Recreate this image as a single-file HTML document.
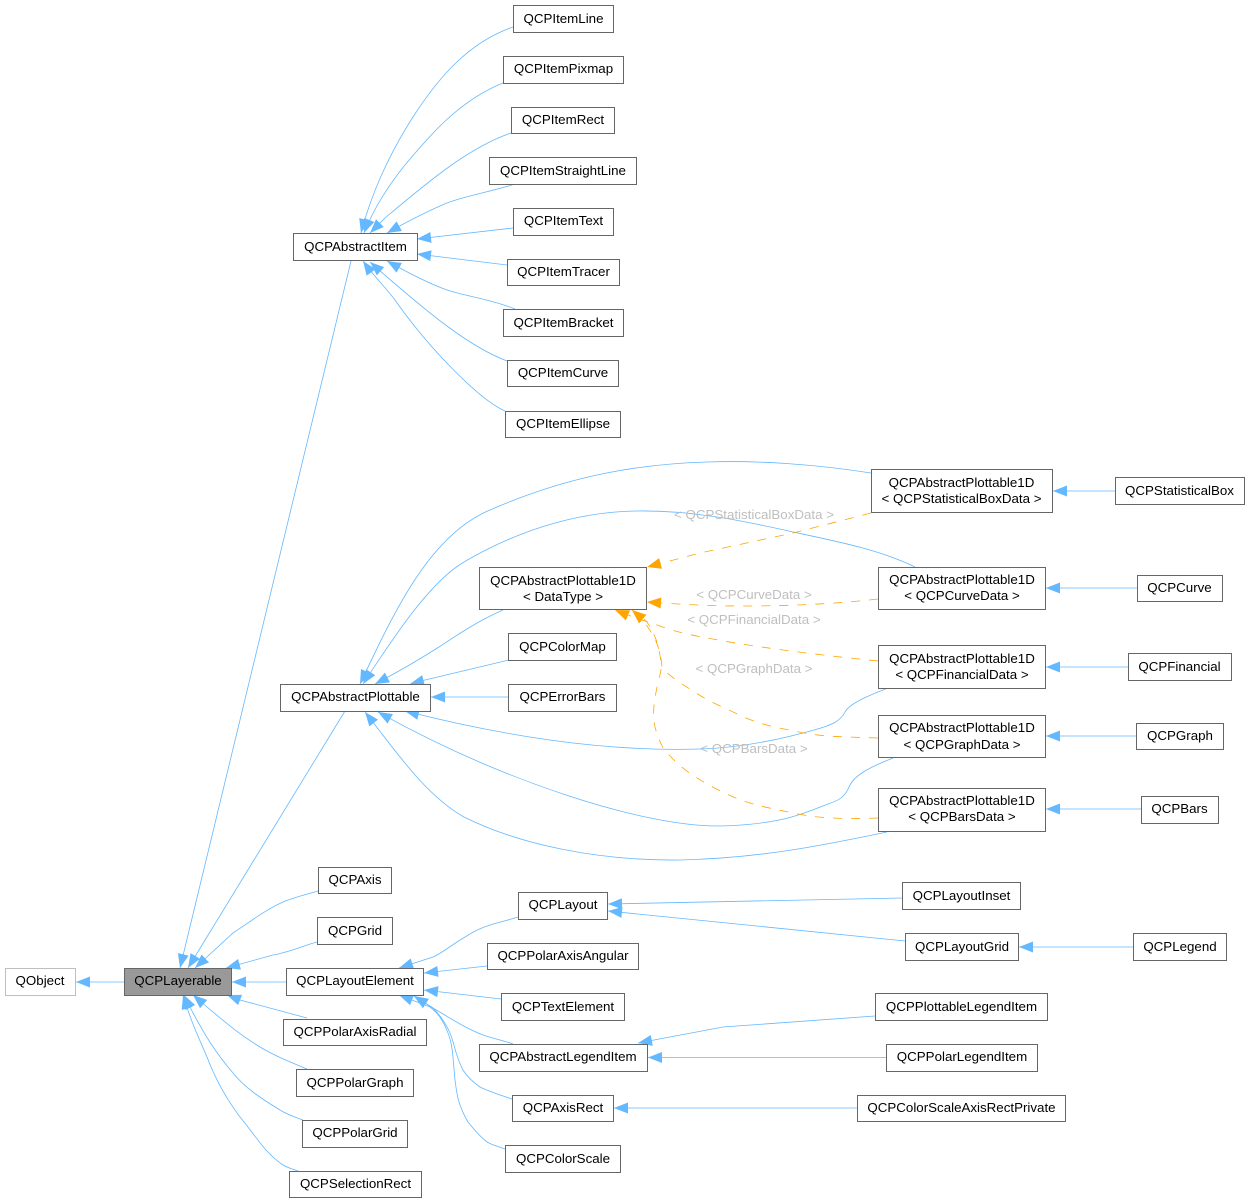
<!DOCTYPE html>
<html><head><meta charset="utf-8"><style>
html,body{margin:0;padding:0;background:#fff}
svg{display:block}
text{font-family:"Liberation Sans",sans-serif;font-size:13.33px;fill:#000;text-anchor:middle}
.b{fill:#fff;stroke:#666;stroke-width:1}
.e{fill:none;stroke:#63b8ff;stroke-width:.8;marker-end:url(#a)}
.o{fill:none;stroke:#ffa500;stroke-width:.8;stroke-dasharray:9,9;marker-end:url(#o)}
.l{fill:#bfbfbf}
</style></head><body>
<svg width="1249" height="1203" viewBox="0 0 1249 1203" xmlns="http://www.w3.org/2000/svg">
<defs>
<marker id="a" markerUnits="userSpaceOnUse" markerWidth="16" markerHeight="13" refX="14" refY="5.5" orient="auto" overflow="visible"><polygon points="0,0 14,5.5 0,11" fill="#63b8ff"/></marker>
<marker id="o" markerUnits="userSpaceOnUse" markerWidth="16" markerHeight="13" refX="14" refY="5.5" orient="auto" overflow="visible"><polygon points="0,0 14,5.5 0,11" fill="#ffa500"/></marker>
</defs>

<!-- item edges -->
<path class="e" d="M513,27C470,42 440,75 413,117C388,156 371,195 361,233"/>
<path class="e" d="M503,83C460,100 430,135 405,165C388,186 374,208 364,233"/>
<path class="e" d="M511,133C470,147 430,180 385,218L370,233"/>
<path class="e" d="M515,184C490,192 465,196 447,203C430,210 412,219 387,233"/>
<path class="e" d="M513,228L417,239"/>
<path class="e" d="M507,265L417,254"/>
<path class="e" d="M515,309C490,299 465,296 447,290C430,284 412,275 387,261"/>
<path class="e" d="M507,361C470,347 430,315 370,262"/>
<path class="e" d="M505,411C480,400 430,350 395,300C385,287 373,275 363,261"/>
<path class="e" d="M351,261L180,968"/>
<path class="e" d="M345,711L188,968"/>
<path class="e" d="M318,891C305,895 295,897 283,902C265,910 250,922 233,933L195,968"/>
<path class="e" d="M317,942C305,945 290,952 273,955L226,968"/>
<path class="e" d="M286,982L232,982"/>
<path class="e" d="M124,982L76,982"/>
<path class="e" d="M307,1018L240,1000L227,995"/>
<path class="e" d="M307,1069C290,1062 275,1056 260,1047C240,1035 225,1022 207,1007L193,995"/>
<path class="e" d="M303,1120C295,1117 288,1115 280,1110C262,1099 245,1088 233,1073C215,1052 205,1035 193,1013L184,995"/>
<path class="e" d="M300,1172C293,1169 288,1168 283,1165C265,1153 255,1135 240,1117C225,1097 215,1078 207,1057C200,1040 192,1025 183,995"/>

<!-- plottable edges -->
<path class="e" d="M871,473C820,465 760,460 707,462C640,464 570,475 490,510C430,535 395,610 360,684"/>
<path class="e" d="M915,567C880,550 840,542 793,532C740,520 690,510 636,511C570,512 510,535 464,562C430,582 395,635 363,684"/>
<path class="e" d="M503,610C480,620 460,633 439,647C420,659 400,671 375,684"/>
<path class="e" d="M509,660L425,680L410,684"/>
<path class="e" d="M509,697L431,697"/>
<path class="e" d="M888,688C870,695 850,703 845,712C840,722 830,725 821,728C780,740 740,748 700,749C600,752 500,735 405,711"/>
<path class="e" d="M893,758C870,767 855,775 850,785C845,797 840,800 828,804C810,811 795,817 779,820C760,824 735,826 718,826C640,826 500,780 378,712"/>
<path class="e" d="M887,832C820,846 760,858 680,860C600,861 520,845 464,817C425,795 395,750 365,712"/>
<path class="e" d="M1115,491L1053,491"/>
<path class="e" d="M1137,588L1046,588"/>
<path class="e" d="M1128,667L1046,667"/>
<path class="e" d="M1136,736L1046,736"/>
<path class="e" d="M1141,809L1046,809"/>

<!-- orange edges -->
<path class="o" d="M871,513L793,533L700,553L647,567"/>
<path class="o" d="M878,599C835,604 790,606 743,606C715,606 690,605 647,602"/>
<path class="o" d="M878,661C820,655 760,648 707,638C685,634 670,630 660,626C645,621 632,617 615,610"/>
<path class="o" d="M878,738C850,737 825,737 804,733C780,728 765,726 746,718C725,708 710,702 696,693C682,684 672,678 662,668C661,650 655,630 632,610"/>
<path class="o" d="M878,818C850,819 820,819 793,813C770,808 750,805 729,795C705,784 685,772 671,757C664,750 660,745 655,727C652,715 654,700 658,683C660,675 662,668 661,662C660,655 659,650 658,645C655,636 652,630 647,622C642,617 638,615 632,610"/>

<text class="l" x="754" y="519">&lt; QCPStatisticalBoxData &gt;</text>
<text class="l" x="754" y="599">&lt; QCPCurveData &gt;</text>
<text class="l" x="754" y="624">&lt; QCPFinancialData &gt;</text>
<text class="l" x="754" y="673">&lt; QCPGraphData &gt;</text>
<text class="l" x="754" y="753">&lt; QCPBarsData &gt;</text>

<!-- layout edges -->
<path class="e" d="M518,917C505,921 500,922 490,925C475,930 470,934 457,942C445,950 440,954 433,957L399,968"/>
<path class="e" d="M487,966L424,973"/>
<path class="e" d="M501,999L424,990"/>
<path class="e" d="M513,1044C505,1041 495,1039 483,1035C465,1028 450,1018 433,1008L414,996"/>
<path class="e" d="M512,1099C500,1095 490,1092 480,1087C470,1080 466,1075 463,1070C455,1055 455,1045 450,1033C445,1022 440,1015 433,1008L414,996"/>
<path class="e" d="M505,1149C497,1146 492,1145 487,1142C478,1135 473,1128 468,1122C458,1105 457,1095 455,1080C453,1060 453,1045 448,1033C443,1020 438,1013 430,1007L399,995"/>
<path class="e" d="M902,898L608,904"/>
<path class="e" d="M905,941L608,911"/>
<path class="e" d="M1133,947L1019,947"/>
<path class="e" d="M875,1016L723,1027L638,1043"/>
<path class="e" d="M886,1057.5L648,1057.5"/>
<path class="e" d="M857,1108L614,1108"/>

<!-- nodes -->
<rect x="513.5" y="5.5" width="100" height="27" class="b"/><text x="563.5" y="23">QCPItemLine</text>
<rect x="503.5" y="56.5" width="120" height="27" class="b"/><text x="563.5" y="73">QCPItemPixmap</text>
<rect x="511.5" y="107.5" width="103" height="26" class="b"/><text x="563" y="124">QCPItemRect</text>
<rect x="489.5" y="157.5" width="147" height="27" class="b"/><text x="563" y="175">QCPItemStraightLine</text>
<rect x="513.5" y="208.5" width="100" height="27" class="b"/><text x="563.5" y="225">QCPItemText</text>
<rect x="507.5" y="259.5" width="112" height="26" class="b"/><text x="563.5" y="276">QCPItemTracer</text>
<rect x="503.5" y="309.5" width="120" height="27" class="b"/><text x="563.5" y="327">QCPItemBracket</text>
<rect x="507.5" y="360.5" width="111" height="26" class="b"/><text x="563" y="377">QCPItemCurve</text>
<rect x="505.5" y="411.5" width="115" height="26" class="b"/><text x="563" y="428">QCPItemEllipse</text>
<rect x="293.5" y="233.5" width="124" height="27" class="b"/><text x="355.5" y="251">QCPAbstractItem</text>

<rect x="871.5" y="469.5" width="181" height="43" class="b"/><text x="961.5" y="487">QCPAbstractPlottable1D</text><text x="961.5" y="503">&lt; QCPStatisticalBoxData &gt;</text>
<rect x="1115.5" y="477.5" width="129" height="27" class="b"/><text x="1179.5" y="495">QCPStatisticalBox</text>
<rect x="479.5" y="567.5" width="167" height="42" class="b"/><text x="563" y="585">QCPAbstractPlottable1D</text><text x="563" y="601">&lt; DataType &gt;</text>
<rect x="878.5" y="567.5" width="167" height="42" class="b"/><text x="962" y="584">QCPAbstractPlottable1D</text><text x="962" y="600">&lt; QCPCurveData &gt;</text>
<rect x="1137.5" y="575.5" width="85" height="26" class="b"/><text x="1179.5" y="592">QCPCurve</text>
<rect x="878.5" y="645.5" width="167" height="43" class="b"/><text x="962" y="663">QCPAbstractPlottable1D</text><text x="962" y="679">&lt; QCPFinancialData &gt;</text>
<rect x="1128.5" y="653.5" width="103" height="27" class="b"/><text x="1179.5" y="671">QCPFinancial</text>
<rect x="508.5" y="633.5" width="108" height="27" class="b"/><text x="562.5" y="651">QCPColorMap</text>
<rect x="508.5" y="684.5" width="108" height="27" class="b"/><text x="562.5" y="701">QCPErrorBars</text>
<rect x="280.5" y="684.5" width="150" height="27" class="b"/><text x="355.5" y="701">QCPAbstractPlottable</text>
<rect x="878.5" y="715.5" width="167" height="42" class="b"/><text x="962" y="732">QCPAbstractPlottable1D</text><text x="962" y="749">&lt; QCPGraphData &gt;</text>
<rect x="1136.5" y="723.5" width="87" height="26" class="b"/><text x="1180" y="740">QCPGraph</text>
<rect x="878.5" y="788.5" width="167" height="43" class="b"/><text x="962" y="805">QCPAbstractPlottable1D</text><text x="962" y="821">&lt; QCPBarsData &gt;</text>
<rect x="1141.5" y="796.5" width="77" height="27" class="b"/><text x="1179.5" y="813">QCPBars</text>

<rect x="5.5" y="968.5" width="70" height="27" fill="#fff" stroke="#bfbfbf"/><text x="40" y="985">QObject</text>
<rect x="124.5" y="968.5" width="107" height="27" fill="#999" stroke="#666"/><text x="178" y="985">QCPLayerable</text>
<rect x="318.5" y="867.5" width="73" height="26" class="b"/><text x="355" y="884">QCPAxis</text>
<rect x="317.5" y="917.5" width="75" height="27" class="b"/><text x="355" y="935">QCPGrid</text>
<rect x="286.5" y="968.5" width="137" height="27" class="b"/><text x="355" y="985">QCPLayoutElement</text>
<rect x="283.5" y="1019.5" width="143" height="26" class="b"/><text x="355" y="1036">QCPPolarAxisRadial</text>
<rect x="296.5" y="1069.5" width="117" height="27" class="b"/><text x="355" y="1087">QCPPolarGraph</text>
<rect x="302.5" y="1120.5" width="105" height="27" class="b"/><text x="355" y="1137">QCPPolarGrid</text>
<rect x="289.5" y="1171.5" width="132" height="26" class="b"/><text x="355.5" y="1188">QCPSelectionRect</text>

<rect x="518.5" y="892.5" width="89" height="27" class="b"/><text x="563" y="909">QCPLayout</text>
<rect x="487.5" y="943.5" width="151" height="26" class="b"/><text x="563" y="960">QCPPolarAxisAngular</text>
<rect x="501.5" y="993.5" width="123" height="27" class="b"/><text x="563" y="1011">QCPTextElement</text>
<rect x="479.5" y="1044.5" width="168" height="27" class="b"/><text x="563" y="1061">QCPAbstractLegendItem</text>
<rect x="512.5" y="1095.5" width="101" height="26" class="b"/><text x="563" y="1112">QCPAxisRect</text>
<rect x="505.5" y="1145.5" width="115" height="27" class="b"/><text x="563" y="1163">QCPColorScale</text>
<rect x="902.5" y="882.5" width="118" height="27" class="b"/><text x="961.5" y="900">QCPLayoutInset</text>
<rect x="905.5" y="933.5" width="113" height="27" class="b"/><text x="962" y="951">QCPLayoutGrid</text>
<rect x="1133.5" y="933.5" width="93" height="27" class="b"/><text x="1180" y="951">QCPLegend</text>
<rect x="875.5" y="993.5" width="172" height="27" class="b"/><text x="961.5" y="1011">QCPPlottableLegendItem</text>
<rect x="886.5" y="1044.5" width="151" height="27" class="b"/><text x="962" y="1061">QCPPolarLegendItem</text>
<rect x="857.5" y="1095.5" width="208" height="26" class="b"/><text x="961.5" y="1112">QCPColorScaleAxisRectPrivate</text>
</svg>
</body></html>
